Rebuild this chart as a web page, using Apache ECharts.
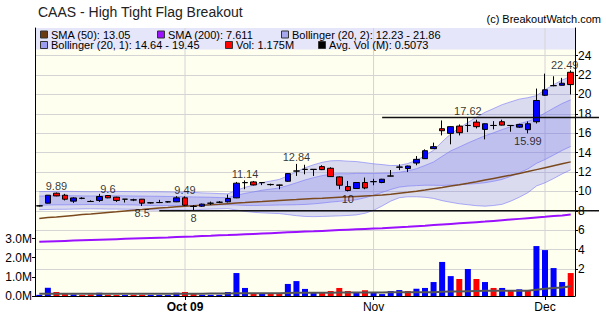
<!DOCTYPE html>
<html><head><meta charset="utf-8">
<script src="https://cdn.jsdelivr.net/npm/echarts@6/dist/echarts.min.js"></script>
<style>html,body{margin:0;padding:0;background:#fff}#c{width:606px;height:317px}</style>
</head><body><div id="c"></div>
<script>
const dates = ['2009-09-08','2009-09-09','2009-09-10','2009-09-11','2009-09-14','2009-09-15','2009-09-16','2009-09-17','2009-09-18','2009-09-21','2009-09-22','2009-09-23','2009-09-24','2009-09-25','2009-09-28','2009-09-29','2009-09-30',
'2009-10-01','2009-10-02','2009-10-05','2009-10-06','2009-10-07','2009-10-08','2009-10-09','2009-10-12','2009-10-13','2009-10-14','2009-10-15','2009-10-16','2009-10-19','2009-10-20','2009-10-21','2009-10-22','2009-10-23','2009-10-26','2009-10-27','2009-10-28','2009-10-29','2009-10-30',
'2009-11-02','2009-11-03','2009-11-04','2009-11-05','2009-11-06','2009-11-09','2009-11-10','2009-11-11','2009-11-12','2009-11-13','2009-11-16','2009-11-17','2009-11-18','2009-11-19','2009-11-20','2009-11-23','2009-11-24','2009-11-25','2009-11-27','2009-11-30',
'2009-12-01','2009-12-02','2009-12-03','2009-12-04'];

const opens  = [8.50,8.79,9.82,9.61,9.00,9.28,8.97,9.07,9.58,9.41, 9.20,9.12,9.20,8.82,8.85,8.92,8.93,9.34,8.45,8.48, 8.78,8.88,8.93,9.34,10.90,10.98,10.90,10.72,10.66,11.05, 12.10,12.27,12.27,12.56,12.39,11.50,10.50,10.30,10.92,11.00, 10.92,11.58,12.50,12.36,12.93,13.38,14.41,16.47,15.99,16.74, 16.80,17.15,16.40,16.80,17.19,16.80,16.63,16.37,17.19,19.92, 20.90,20.95,22.29];
const highs  = [8.58,9.63,9.89,9.75,9.40,9.40,9.08,9.75,9.60,9.45, 9.22,9.25,9.22,8.90,9.13,9.00,9.51,9.49,8.60,8.75, 8.95,9.00,9.68,10.98,11.14,11.08,10.95,10.80,10.70,11.90, 12.84,12.75,12.30,12.70,12.49,11.55,11.08,10.95,11.43,11.30, 11.30,12.21,12.80,12.66,13.65,14.34,15.03,17.32,16.72,16.91, 17.62,17.40,17.02,17.25,17.40,16.83,16.98,17.22,20.61,22.15, 21.88,21.71,22.49];
const lows   = [8.45,8.77,9.50,9.07,8.82,9.20,8.93,8.92,9.30,8.92, 8.86,9.00,8.50,8.75,8.80,8.85,8.90,8.50,8.00,8.40, 8.60,8.80,8.86,9.30,10.23,10.62,10.65,10.60,10.23,11.00, 11.60,11.77,11.60,12.20,11.50,10.23,10.00,10.28,10.23,10.64, 10.85,11.55,12.20,12.00,12.70,13.35,14.38,15.78,14.86,15.78, 16.12,16.50,15.37,16.40,16.80,16.16,16.55,15.99,17.01,19.85, 20.85,20.92,20.00];
const closes = [8.52,9.61,9.54,9.20,9.33,9.30,8.96,9.48,9.34,9.07, 9.20,9.13,8.79,8.83,8.86,8.93,9.34,8.58,8.47,8.69, 8.79,8.89,9.27,10.85,10.92,10.67,10.92,10.70,10.64,11.84, 12.11,12.28,12.28,12.25,11.53,10.64,10.10,10.92,10.36,11.02, 11.26,11.60,12.52,12.62,13.31,14.20,14.62,16.26,16.68,16.06, 16.81,16.68,16.98,16.81,16.84,16.81,16.91,16.98,19.38,20.48, 20.92,21.16,21.02];

const volumes = [0.06,0.43,0.21,0.10,0.08,0.05,0.08,0.17,0.06,0.05, 0.05,0.06,0.06,0.05,0.05,0.05,0.17,0.21,0.10,0.06, 0.06,0.06,0.21,1.20,0.42,0.14,0.14,0.14,0.14,0.63, 0.78,0.37,0.21,0.16,0.26,0.42,0.26,0.21,0.30,0.21, 0.10,0.26,0.31,0.26,0.38,0.42,0.73,1.78,1.04,0.89, 1.41,0.89,0.73,0.42,0.42,0.26,0.35,0.26,2.61,2.40, 1.46,0.73,1.20];
const volDir = [1,1,-1,-1,1,-1,-1,1,-1,-1, 1,-1,-1,1,1,1,1,-1,-1,1, 1,1,1,1,1,-1,1,-1,-1,1, 1,1,1,-1,-1,-1,-1,1,-1,1, 1,1,1,-1,1,1,1,1,1,-1, 1,-1,1,-1,1,-1,1,-1,1,1, 1,1,-1];
const avgVol = [0.12,0.12,0.12,0.12,0.12,0.12,0.12,0.12,0.12,0.12, 0.12,0.12,0.12,0.12,0.12,0.12,0.12,0.12,0.12,0.12, 0.13,0.13,0.13,0.14,0.14,0.15,0.15,0.15,0.15,0.16, 0.17,0.17,0.17,0.17,0.17,0.18,0.18,0.18,0.18,0.18, 0.18,0.19,0.19,0.19,0.19,0.20,0.20,0.22,0.23,0.24, 0.25,0.26,0.27,0.27,0.27,0.27,0.28,0.28,0.33,0.38, 0.42,0.45,0.51];

const sma50 = [7.22,7.30,7.37,7.45,7.53,7.61,7.68,7.76,7.84,7.91, 7.99,8.07,8.14,8.22,8.30,8.35,8.41,8.47,8.52,8.58, 8.63,8.68,8.74,8.80,8.85,8.91,8.96,9.02,9.07,9.12, 9.16,9.21,9.26,9.30,9.35,9.40,9.44,9.49,9.54,9.58, 9.63,9.72,9.82,9.92,10.03,10.15,10.28,10.41,10.55,10.69, 10.84,11.00,11.17,11.34,11.51,11.68,11.86,12.05,12.25,12.45, 12.65,12.85,13.05];
const sma200 = [4.81,4.84,4.87,4.90,4.93,4.96,4.99,5.02,5.05,5.08, 5.11,5.14,5.17,5.20,5.23,5.26,5.30,5.33,5.36,5.40, 5.43,5.47,5.50,5.54,5.58,5.62,5.66,5.70,5.74,5.78, 5.82,5.86,5.89,5.93,5.97,6.01,6.05,6.09,6.13,6.17, 6.21,6.26,6.31,6.36,6.42,6.47,6.53,6.59,6.65,6.71, 6.77,6.83,6.89,6.96,7.03,7.10,7.17,7.24,7.31,7.38, 7.46,7.53,7.61];

const bollUpper2 = [9.98,10.00,10.02,10.02,10.00,9.98,9.97,9.98,10.00,10.00, 9.99,9.98,9.97,9.97,9.96,9.95,9.94,9.93,9.90,9.85, 9.82,9.78,9.75,10.12,10.42,10.65,10.91,11.07,11.24,11.61, 12.02,12.44,12.75,13.00,13.16,13.18,13.12,13.08,12.97,12.85, 12.77,12.67,12.69,12.88,13.20,13.70,14.24,15.12,15.94,16.53, 17.11,17.65,18.16,18.55,18.95,19.24,19.52,19.67,19.88,20.49, 21.01,21.49,21.86];
const bollUpper1 = [9.52,9.54,9.56,9.56,9.55,9.54,9.53,9.54,9.55,9.55, 9.54,9.53,9.52,9.51,9.50,9.48,9.48,9.46,9.43,9.42, 9.40,9.37,9.35,9.60,9.80,9.95,10.13,10.24,10.36,10.61, 10.89,11.18,11.42,11.63,11.78,11.83,11.82,11.86,11.85,11.85, 11.87,11.89,11.98,12.12,12.34,12.68,13.04,13.62,14.18,14.58, 14.99,15.37,15.74,16.05,16.38,16.68,16.99,17.22,17.55,18.09, 18.59,19.07,19.45];
const bollLower1 = [8.58,8.60,8.62,8.62,8.63,8.64,8.65,8.64,8.63,8.63, 8.62,8.61,8.58,8.55,8.54,8.54,8.56,8.54,8.53,8.58, 8.60,8.61,8.63,8.60,8.56,8.55,8.57,8.58,8.60,8.61, 8.63,8.66,8.72,8.80,8.90,8.98,9.05,9.15,9.35,9.60, 9.90,10.20,10.45,10.55,10.60,10.64,10.64,10.62,10.66,10.68, 10.75,10.81,10.90,11.05,11.24,11.56,11.93,12.32,12.89,13.29, 13.75,14.23,14.64];
const bollLower2 = [8.12,8.14,8.16,8.16,8.18,8.20,8.21,8.20,8.18,8.18, 8.17,8.16,8.13,8.09,8.08,8.07,8.10,8.07,8.06,8.15, 8.18,8.20,8.23,8.08,7.94,7.85,7.79,7.75,7.72,7.61, 7.50,7.42,7.40,7.42,7.45,7.48,7.52,7.58,7.75,8.05, 8.50,9.00,9.35,9.45,9.45,9.40,9.28,9.05,8.88,8.73, 8.63,8.53,8.48,8.55,8.67,9.00,9.40,9.87,10.56,10.89, 11.33,11.81,12.23];

const highNotes = [[2,9.89],[8,9.6],[17,9.49],[24,11.14],[30,12.84],[50,17.62],[62,22.49]];
const lowNotes  = [[12,8.5],[18,8],[36,10],[57,15.99]];
const levelStart = [14, 40];
const levelValue = [8, 17.62];
const monthTickIdx = [17, 39, 59];
const monthTickLabels = ['Oct 09', 'Nov', 'Dec'];

const titleText = 'CAAS - High Tight Flag Breakout';
const creditText = '(c) BreakoutWatch.com';
const legendRow1 = [['SMA (50): 13.05','#6b3a10'],['SMA (200): 7.611','#9a10ff'],['Bollinger (20, 2): 12.23 - 21.86','#a8a8ee']];
const legendRow2 = [['Bollinger (20, 1): 14.64 - 19.45','#9c9cf0'],['Vol: 1.175M','#ff0000'],['Avg. Vol (M): 0.5073','#000000']];
const legendRow1X = [40, 157, 281];
const legendRow2X = [40, 225, 318];

const FONT = '"Liberation Sans", Arial, sans-serif';
const chart = echarts.init(document.getElementById('c'), null, {renderer: 'svg'});

function bandSeries(upper, lower, fill) {
  return {
    type: 'custom', xAxisIndex: 0, yAxisIndex: 0, silent: true, z: 1,
    data: dates.map((d, i) => [i, upper[i], lower[i]]),
    renderItem(params, api) {
      if (params.dataIndex !== 0) return null;
      const pts = [];
      for (let i = 0; i < upper.length; i++) pts.push(api.coord([i, upper[i]]));
      for (let i = lower.length - 1; i >= 0; i--) pts.push(api.coord([i, lower[i]]));
      return {type: 'polygon', shape: {points: pts}, style: {fill: fill}};
    }
  };
}
function edgeLine(data) {
  return {type: 'line', xAxisIndex: 0, yAxisIndex: 0, data: data, symbol: 'none', silent: true, z: 2,
    lineStyle: {color: 'rgba(120,120,250,0.6)', width: 1}};
}

const legendGraphics = [];
function addLegendRow(items, xs, y) {
  items.forEach((it, k) => {
    legendGraphics.push({type: 'rect', shape: {x: xs[k] + 0.5, y: y - 3.5, width: 7, height: 7},
      style: {fill: it[1], stroke: '#333', lineWidth: 1}, z: 10});
    legendGraphics.push({type: 'text', x: xs[k] + 11, y: y,
      style: {text: it[0], fill: '#000', font: '11px ' + FONT, verticalAlign: 'middle', textVerticalAlign: 'middle'}, z: 10});
  });
}
addLegendRow(legendRow1, legendRow1X, 34.5);
addLegendRow(legendRow2, legendRow2X, 45);

const option = {
  animation: false,
  textStyle: {fontFamily: FONT},
  graphic: [
    {type: 'rect', shape: {x: 35, y: 28, width: 540, height: 268}, style: {fill: '#fffff0'}, z: -10, silent: true},
    {type: 'rect', shape: {x: 35, y: 28, width: 540, height: 21.5}, style: {fill: '#e6e6fa'}, z: -9, silent: true},
    {type: 'text', x: 38, y: 12, style: {text: titleText, fill: '#222', font: '14px ' + FONT, verticalAlign: 'middle', textVerticalAlign: 'middle'}},
    {type: 'text', x: 601, y: 19, style: {text: creditText, fill: '#000', font: '11px ' + FONT, align: 'right', textAlign: 'right', verticalAlign: 'middle', textVerticalAlign: 'middle'}},
    ...legendGraphics
  ],
  grid: [
    {left: 35, right: 31, top: 55.7, bottom: 48, outerBoundsMode: 'none', containLabel: false},
    {left: 35, right: 31, top: 238.6, bottom: 21, outerBoundsMode: 'none', containLabel: false},
    {left: 35, right: 31, top: 28, bottom: 21, outerBoundsMode: 'none', containLabel: false}
  ],
  xAxis: [
    {type: 'category', gridIndex: 0, data: dates, show: false},
    {type: 'category', gridIndex: 1, data: dates,
      axisLine: {show: true, lineStyle: {color: '#000', width: 1}},
      axisTick: {show: true, alignWithLabel: true, length: 4, interval: (i) => monthTickIdx.includes(i), lineStyle: {color: '#000'}},
      axisLabel: {show: true, interval: (i) => monthTickIdx.includes(i), margin: 5, fontSize: 12, color: '#000',
        formatter: (v, i) => { const k = monthTickIdx.indexOf(i); if (k < 0) return ''; return k === 0 ? '{b|' + monthTickLabels[k] + '}' : monthTickLabels[k]; },
        rich: {b: {fontWeight: 'bold', fontSize: 12, color: '#000'}}},
      splitLine: {show: false}},
    {type: 'category', gridIndex: 2, data: dates, show: false}
  ],
  yAxis: [
    {type: 'value', gridIndex: 0, position: 'right', min: 2, max: 24, interval: 2,
      axisLine: {show: false}, axisTick: {show: true, length: 3, lineStyle: {color: '#000'}},
      axisLabel: {fontSize: 12, color: '#000', margin: 3},
      splitLine: {show: true, showMinLine: true, showMaxLine: true, lineStyle: {color: '#d4d4d4', width: 1}}},
    {type: 'value', gridIndex: 1, position: 'left', min: 0, max: 3, interval: 1,
      axisLine: {show: false}, axisTick: {show: true, length: 3, lineStyle: {color: '#000'}},
      axisLabel: {fontSize: 12, color: '#000', margin: 3, formatter: (v) => v.toFixed(1) + 'M'},
      splitLine: {show: false}},
    {type: 'value', gridIndex: 2, position: 'left', min: 0, max: 1,
      axisLine: {show: true, lineStyle: {color: '#000', width: 1}}, axisTick: {show: false}, axisLabel: {show: false}, splitLine: {show: false}},
    {type: 'value', gridIndex: 2, position: 'right', min: 0, max: 1,
      axisLine: {show: true, lineStyle: {color: '#000', width: 1}}, axisTick: {show: false}, axisLabel: {show: false}, splitLine: {show: false}}
  ],
  series: [
    {type: 'custom', xAxisIndex: 2, yAxisIndex: 2, silent: true, z: 0,
      data: monthTickIdx.map(i => [i]),
      renderItem(params, api) {
        const x = api.coord([api.value(0), 0])[0];
        const cs = params.coordSys;
        return {type: 'line', shape: {x1: x, y1: cs.y, x2: x, y2: cs.y + cs.height}, style: {stroke: '#d4d4d4', lineWidth: 1}};
      }},
    bandSeries(bollUpper2, bollLower2, 'rgba(110,110,235,0.25)'),
    bandSeries(bollUpper1, bollLower1, 'rgba(110,110,235,0.25)'),
    edgeLine(bollUpper2), edgeLine(bollUpper1), edgeLine(bollLower1), edgeLine(bollLower2),
    {type: 'line', name: 'SMA50', xAxisIndex: 0, yAxisIndex: 0, data: sma50, symbol: 'none', silent: true, z: 3,
      lineStyle: {color: '#7a4a1e', width: 1.5}},
    {type: 'line', name: 'SMA200', xAxisIndex: 0, yAxisIndex: 0, data: sma200, symbol: 'none', silent: true, z: 3,
      lineStyle: {color: '#9a10ff', width: 2}},
    {type: 'bar', xAxisIndex: 1, yAxisIndex: 1, barWidth: 6, silent: true, z: 2,
      data: volumes.map((v, i) => ({value: v, itemStyle: {color: volDir[i] > 0 ? '#0000ff' : '#ff0000'}}))},
    {type: 'line', xAxisIndex: 1, yAxisIndex: 1, data: avgVol, symbol: 'none', silent: true, z: 3,
      lineStyle: {color: '#555', width: 2}},
    {type: 'candlestick', xAxisIndex: 0, yAxisIndex: 0, barWidth: 6, silent: true, z: 4,
      data: dates.map((d, i) => [opens[i], closes[i], lows[i], highs[i]]),
      itemStyle: {color: '#0000ff', color0: '#ff0000', borderColor: '#000', borderColor0: '#000', borderColorDoji: '#000', borderWidth: 1}},
    {type: 'custom', xAxisIndex: 0, yAxisIndex: 0, silent: true, z: 5, clip: false,
      data: levelStart.map((s, k) => [s, levelValue[k]]),
      renderItem(params, api) {
        const p = api.coord([api.value(0), api.value(1)]);
        const cs = params.coordSys;
        return {type: 'line', shape: {x1: p[0], y1: p[1], x2: cs.x + cs.width + 24, y2: p[1]}, style: {stroke: '#111', lineWidth: 1.5}};
      }},
    {type: 'scatter', xAxisIndex: 0, yAxisIndex: 0, symbolSize: 0, silent: true, z: 6,
      data: highNotes.map((d, k) => k === highNotes.length - 1 ? {value: d, label: {offset: [-6, 1]}} : d),
      label: {show: true, position: 'top', distance: 1, formatter: (p) => String(p.value[1]), fontSize: 11, color: '#000'}},
    {type: 'scatter', xAxisIndex: 0, yAxisIndex: 0, symbolSize: 0, silent: true, z: 6, data: lowNotes,
      label: {show: true, position: 'bottom', distance: 2, formatter: (p) => String(p.value[1]), fontSize: 11, color: '#000'}}
  ]
};
chart.setOption(option);
</script>
</body></html>
